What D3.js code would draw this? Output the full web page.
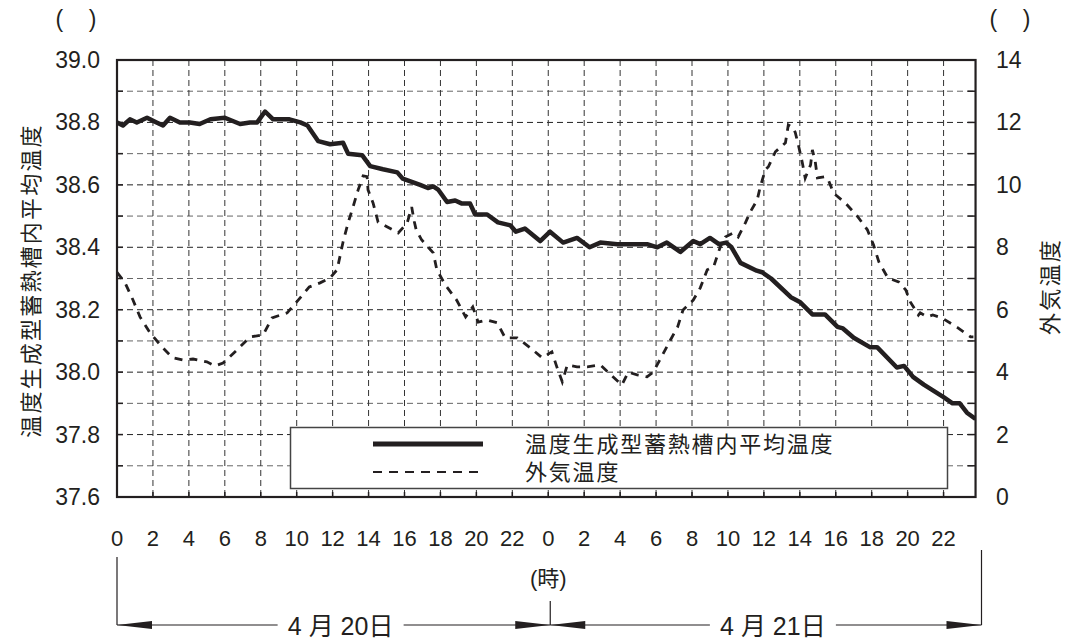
<!DOCTYPE html>
<html>
<head>
  <meta charset="utf-8">
  <title>温度生成型蓄熱槽内平均温度と外気温度</title>
  <style>
  body { margin: 0; background: #fff; }
  text { font-family: "Liberation Sans", Arial, "Noto Sans CJK JP", sans-serif; fill: #231f20; }
  .cjk { font-family: "Liberation Sans", "Noto Sans CJK JP", sans-serif; }
  .grid line { stroke: #333; stroke-width: 1; stroke-dasharray: 6,4; }
  </style>
</head>
<body>
<script src="https://d3js.org/d3.v7.min.js"></script>
<script>
// tank average temperature (left axis, ℃), hours from 4/20 0:00
var tankHours = [0, 0.33, 0.72, 1.1, 1.67, 2.2, 2.56, 2.95, 3.5, 4.06, 4.6, 5.2, 6.0, 6.85, 7.4, 7.8,
  8.24, 8.69, 9.08, 9.6, 10.2, 10.6, 11.2, 11.86, 12.58, 12.86, 13.64, 14.09, 14.8, 15.6, 15.9,
  16.87, 17.3, 17.6, 17.87, 18.37, 18.82, 19.2, 19.65, 19.93, 20.6, 21.2, 21.9, 22.2, 22.7, 23.55,
  24.1, 24.83, 25.6, 26.3, 26.9, 27.84, 28.7, 29.5, 30.07, 30.6, 31.35, 32.07, 32.46, 33.0, 33.5,
  33.9, 34.2, 34.7, 35.6, 35.9, 36.4, 37.5, 38.0, 38.7, 39.4, 40.1, 40.4, 41.0, 41.9, 42.3, 43.4,
  43.8, 44.3, 44.9, 46.0, 46.5, 46.9, 47.3, 47.78];
var tankTemp = [38.80, 38.79, 38.81, 38.80, 38.815, 38.80, 38.79, 38.815, 38.80, 38.80, 38.795, 38.81, 38.815, 38.795, 38.80, 38.80,
  38.835, 38.81, 38.81, 38.81, 38.80, 38.79, 38.74, 38.73, 38.735, 38.70, 38.695, 38.66, 38.65, 38.64, 38.62,
  38.60, 38.59, 38.595, 38.585, 38.545, 38.55, 38.54, 38.54, 38.505, 38.505, 38.48, 38.47, 38.45, 38.46, 38.42,
  38.45, 38.415, 38.43, 38.40, 38.415, 38.41, 38.41, 38.41, 38.40, 38.415, 38.385, 38.42, 38.41, 38.43, 38.41,
  38.415, 38.40, 38.35, 38.325, 38.32, 38.30, 38.24, 38.225, 38.185, 38.185, 38.145, 38.14, 38.11, 38.08, 38.08, 38.015,
  38.02, 37.985, 37.96, 37.92, 37.90, 37.90, 37.87, 37.85];

// outdoor temperature (right axis, ℃)
var outHours = [0, 0.45, 0.89, 1.28, 1.84, 2.5, 3.1, 3.67, 4.23, 5.0, 5.46, 5.9, 6.68, 7.4, 8.13, 8.63,
  9.47, 10.0, 10.7, 11.3, 11.86, 12.25, 12.58, 12.86, 13.14, 13.42, 13.7, 13.92, 13.97, 14.25, 14.53,
  14.92, 15.65, 16.15, 16.4, 16.55, 16.65, 16.95, 17.6, 17.8, 18.26, 18.9, 19.4, 19.8, 20.1, 20.6,
  21.16, 21.6, 22.27, 23.0, 23.66, 24.2, 24.5, 24.78, 25.06, 25.6, 26.17, 26.9, 27.6, 28.1, 28.45,
  28.95, 29.5, 29.84, 30.3, 30.8, 31.2, 31.5, 32.07, 32.46, 32.85, 33.2, 33.57, 33.85, 34.3, 34.57,
  34.97, 35.24, 35.63, 35.8, 36.08, 36.25, 36.64, 37.2, 37.36, 37.64, 37.75, 37.92, 38.14, 38.3, 38.6,
  38.7, 38.86, 38.98, 39.42, 39.59, 39.87, 40.53, 41.2, 41.76, 42.1, 42.4, 42.9, 43.5, 43.9, 44.15,
  44.6, 44.7, 45.1, 45.4, 45.9, 46.8, 47.5, 47.66];
var outTemp = [7.2, 6.86, 6.31, 5.77, 5.26, 4.81, 4.46, 4.39, 4.42, 4.33, 4.2, 4.29, 4.71, 5.13, 5.19, 5.74,
  5.9, 6.25, 6.73, 6.86, 7.02, 7.28, 8.17, 8.78, 9.3, 9.84, 10.29, 10.26, 9.84, 9.42, 8.81,
  8.69, 8.46, 8.78, 9.29, 8.81, 8.56, 8.24, 7.82, 7.28, 6.8, 6.31, 5.77, 6.09, 5.6, 5.67,
  5.58, 5.1, 5.1, 4.78, 4.46, 4.65, 4.13, 3.69, 4.23, 4.17, 4.17, 4.23, 3.85, 3.59, 4.0,
  3.91, 3.85, 4.0, 4.49, 5.03, 5.45, 5.99, 6.31, 6.7, 7.28, 7.37, 8.01, 8.33, 8.46, 8.33,
  8.78, 9.13, 9.52, 9.94, 10.48, 10.58, 11.06, 11.35, 11.92, 11.83, 11.67, 11.28, 10.71, 10.22, 10.64,
  11.12, 10.74, 10.22, 10.26, 10.16, 9.74, 9.42, 9.0, 8.56, 8.08, 7.53, 7.02, 6.89, 6.63, 6.25,
  5.83, 5.9, 5.77, 5.83, 5.74, 5.42, 5.13, 5.13];

var xTickHours = d3.range(0, 48, 2);
var leftTicks = [37.6, 37.8, 38.0, 38.2, 38.4, 38.6, 38.8, 39.0];
var rightTicks = [0, 2, 4, 6, 8, 10, 12, 14];
var dayLabels = ["4 月 20日", "4 月 21日"];
var legendLabels = ["温度生成型蓄熱槽内平均温度", "外気温度"];
var leftTitle = "温度生成型蓄熱槽内平均温度";
var rightTitle = "外気温度";

var width = 1069, height = 639;
var plotEnd = 47.78; // last hour shown inside the frame

var x = d3.scaleLinear().domain([0, 48]).range([117, 979.5]);
var yL = d3.scaleLinear().domain([37.6, 39.0]).range([497, 60]);
var yR = d3.scaleLinear().domain([0, 14]).range([497, 60]);

var svg = d3.select("body").append("svg")
  .attr("width", width)
  .attr("height", height);

var x0 = x(0), x1 = x(plotEnd), yTop = yL(39.0), yBot = yL(37.6);

svg.append("defs").append("clipPath").attr("id", "plot")
  .append("rect").attr("x", x0).attr("y", yTop).attr("width", x1 - x0).attr("height", yBot - yTop);

// grid
var grid = svg.append("g").attr("class", "grid");
grid.selectAll("line.h")
  .data(d3.range(1, 14))
  .enter().append("line")
    .attr("class", "h")
    .attr("x1", x0).attr("x2", x1)
    .attr("y1", function(d) { return yR(d); })
    .attr("y2", function(d) { return yR(d); })
    .style("stroke", function(d) { return d % 2 ? "#666" : "#222"; });
grid.selectAll("line.v")
  .data(xTickHours.slice(1))
  .enter().append("line")
    .attr("class", "v")
    .attr("y1", yTop).attr("y2", yBot)
    .attr("x1", function(d) { return x(d); })
    .attr("x2", function(d) { return x(d); });

// inner ticks
var ticks = svg.append("g").attr("stroke", "#231f20").attr("stroke-width", 1.5);
ticks.selectAll("line.l").data(d3.range(1, 14)).enter().append("line")
  .attr("x1", x0).attr("x2", x0 + 6)
  .attr("y1", function(d) { return yR(d); }).attr("y2", function(d) { return yR(d); });
ticks.selectAll("line.r").data(d3.range(1, 14)).enter().append("line")
  .attr("x1", x1 - 8).attr("x2", x1)
  .attr("y1", function(d) { return yR(d); }).attr("y2", function(d) { return yR(d); });
ticks.selectAll("line.b").data(xTickHours.slice(1)).enter().append("line")
  .attr("y1", yBot - 5).attr("y2", yBot)
  .attr("x1", function(d) { return x(d); }).attr("x2", function(d) { return x(d); });

// data lines
var lineOut = d3.line()
  .x(function(d, i) { return x(outHours[i]); })
  .y(function(d) { return yR(d); });
var lineTank = d3.line()
  .x(function(d, i) { return x(tankHours[i]); })
  .y(function(d) { return yL(d); });

var plot = svg.append("g").attr("clip-path", "url(#plot)");
plot.append("path")
  .datum(outTemp)
  .attr("d", lineOut)
  .attr("fill", "none")
  .attr("stroke", "#231f20")
  .attr("stroke-width", 2.8)
  .attr("stroke-dasharray", "8,7");
plot.append("path")
  .datum(tankTemp)
  .attr("d", lineTank)
  .attr("fill", "none")
  .attr("stroke", "#231f20")
  .attr("stroke-width", 4.5)
  .attr("stroke-linejoin", "round");

// frame
svg.append("rect")
  .attr("x", x0).attr("y", yTop)
  .attr("width", x1 - x0).attr("height", yBot - yTop)
  .attr("fill", "none").attr("stroke", "#231f20").attr("stroke-width", 2.2);

// legend
var lg = svg.append("g");
lg.append("rect")
  .attr("x", 290.5).attr("y", 427.5).attr("width", 657).attr("height", 61)
  .attr("fill", "#fff").attr("stroke", "#444").attr("stroke-width", 1.5);
lg.append("line").attr("x1", 373).attr("x2", 483).attr("y1", 444).attr("y2", 444)
  .attr("stroke", "#231f20").attr("stroke-width", 5);
lg.append("line").attr("x1", 373).attr("x2", 483).attr("y1", 472).attr("y2", 472)
  .attr("stroke", "#231f20").attr("stroke-width", 2.2).attr("stroke-dasharray", "9,7");
lg.selectAll("text").data(legendLabels).enter().append("text")
  .attr("class", "cjk")
  .attr("x", 525)
  .attr("y", function(d, i) { return 452 + i * 28; })
  .attr("font-size", 22).attr("letter-spacing", 1.8)
  .text(function(d) { return d; });

// tick labels
svg.selectAll("text.yl").data(leftTicks).enter().append("text")
  .attr("x", 100).attr("y", function(d) { return yL(d) + 8; })
  .attr("text-anchor", "end").attr("font-size", 23)
  .text(function(d) { return d.toFixed(1); });
svg.selectAll("text.yr").data(rightTicks).enter().append("text")
  .attr("x", 996).attr("y", function(d) { return yR(d) + 8; })
  .attr("font-size", 23)
  .text(function(d) { return d; });
svg.selectAll("text.xb").data(xTickHours).enter().append("text")
  .attr("x", function(d) { return x(d); }).attr("y", 546)
  .attr("text-anchor", "middle").attr("font-size", 22)
  .text(function(d) { return d % 24; });

// unit brackets
svg.append("text").attr("x", 76).attr("y", 27).attr("text-anchor", "middle")
  .attr("font-size", 23).attr("xml:space", "preserve").text("(    )");
svg.append("text").attr("x", 1010).attr("y", 27).attr("text-anchor", "middle")
  .attr("font-size", 23).attr("xml:space", "preserve").text("(    )");

// axis titles
svg.append("text").attr("class", "cjk")
  .attr("transform", "translate(39," + ((yTop + yBot) / 2 + 2) + ") rotate(-90)")
  .attr("text-anchor", "middle").attr("font-size", 22).attr("letter-spacing", 2.2)
  .text(leftTitle);
svg.append("text").attr("class", "cjk")
  .attr("transform", "translate(1058," + ((yTop + yBot) / 2 + 8) + ") rotate(-90)")
  .attr("text-anchor", "middle").attr("font-size", 22).attr("letter-spacing", 2.2)
  .text(rightTitle);

svg.append("text").attr("class", "cjk")
  .attr("x", x(24)).attr("y", 586).attr("text-anchor", "middle").attr("font-size", 22)
  .text("(時)");

// day span arrows
var arrowY = 625;
var days = [{ a: 0, b: 24, label: dayLabels[0] }, { a: 24, b: 48, label: dayLabels[1] }];
var ann = svg.append("g");
ann.append("line").attr("x1", x(0)).attr("x2", x(0)).attr("y1", 557).attr("y2", arrowY)
  .attr("stroke", "#231f20").attr("stroke-width", 1.2);
ann.append("line").attr("x1", x(24) + 2).attr("x2", x(24) + 2).attr("y1", 601).attr("y2", arrowY)
  .attr("stroke", "#231f20").attr("stroke-width", 1.2);
ann.append("line").attr("x1", x(48) + 2).attr("x2", x(48) + 2).attr("y1", 550).attr("y2", arrowY)
  .attr("stroke", "#231f20").attr("stroke-width", 1.2);

days.forEach(function(d) {
  var a = x(d.a) + (d.a ? 2 : 0), b = x(d.b) + 2;
  var cx = (a + b) / 2 + 7;
  var half = 63;
  ann.append("line").attr("x1", a).attr("x2", cx - half).attr("y1", arrowY).attr("y2", arrowY)
    .attr("stroke", "#231f20").attr("stroke-width", 1.2);
  ann.append("line").attr("x1", cx + half).attr("x2", b).attr("y1", arrowY).attr("y2", arrowY)
    .attr("stroke", "#231f20").attr("stroke-width", 1.2);
  ann.append("path")
    .attr("d", "M" + a + "," + arrowY + "L" + (a + 35) + "," + (arrowY - 4) + "L" + (a + 35) + "," + (arrowY + 4) + "Z")
    .attr("fill", "#231f20");
  ann.append("path")
    .attr("d", "M" + b + "," + arrowY + "L" + (b - 35) + "," + (arrowY - 4) + "L" + (b - 35) + "," + (arrowY + 4) + "Z")
    .attr("fill", "#231f20");
  ann.append("text").attr("class", "cjk")
    .attr("x", cx).attr("y", arrowY + 10).attr("text-anchor", "middle").attr("font-size", 25)
    .text(d.label);
});
</script>
</body>
</html>
